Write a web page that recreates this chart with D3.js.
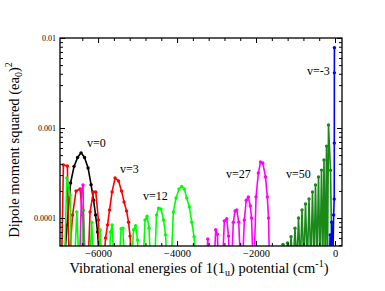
<!DOCTYPE html>
<html>
<head>
<meta charset="utf-8">
<script src="https://cdn.jsdelivr.net/npm/d3@7/dist/d3.min.js"></script>
<style>
  body { margin: 0; background: #fff; }
  text { font-family: "Liberation Serif", "Times New Roman", serif; fill: #000; }
</style>
</head>
<body>
<div id="chart"></div>
<script>
// values; 3e-5 means "below the axis" (clipped)
var v0Energy = [-6862, -6786, -6697, -6609, -6520, -6431, -6343, -6254, -6178, -6115, -6064, -6013, -5963];
var v0Dipole = [3e-5, 8.4e-5, 2.45e-4, 3.75e-4, 4.7e-4, 5.3e-4, 4.7e-4, 3.6e-4, 2.35e-4, 1.58e-4, 1.08e-4, 7.0e-5, 3e-5];

var v3Energy = [-6925, -6879, -6778, -6735, -6647, -6558, -6457, -6393, -6355, -6254, -6203, -6120, -6059, -5993, -5950,
  -5862, -5811, -5760, -5710, -5646, -5570, -5482, -5406, -5343, -5279, -5229, -5191, -5140];
var v3Dipole = [3e-5, 3.88e-4, 3.78e-4, 3e-5, 1.08e-4, 2.0e-4, 2.1e-4, 1.08e-4, 3e-5, 3e-5, 1.17e-4, 1.95e-4, 1.95e-4, 9.5e-5, 3e-5,
  3e-5, 6.0e-5, 8.4e-5, 1.23e-4, 1.95e-4, 2.78e-4, 2.58e-4, 2.0e-4, 1.51e-4, 1.2e-4, 9.0e-5, 6.3e-5, 3e-5];

var v12Energy = [-6849, -6793, -6710, -6672, -6596, -6540, -6482, -6419, -6373, -6317, -6216, -6160, -6115, -6001, -5950, -5900,
  -5722, -5684, -5646, -5596, -5469, -5418, -5373, -5330, -5153, -5102, -5051, -5001, -4975,
  -4861, -4811, -4760, -4710, -4672, -4570, -4520, -4469, -4406, -4342, -4292, -4254,
  -4152, -4094, -4026, -3950, -3882, -3816, -3755, -3689, -3628, -3570, -3519];
var v12Dipole = [3e-5, 2.78e-4, 1.8e-4, 3e-5, 3e-5, 1.17e-4, 3e-5, 3e-5, 1.23e-4, 3e-5, 3e-5, 9.0e-5, 3e-5, 3e-5, 7.4e-5, 3e-5,
  3e-5, 7.0e-5, 8.4e-5, 3e-5, 3e-5, 7.6e-5, 7.7e-5, 3e-5, 3e-5, 7.4e-5, 8.2e-5, 5.7e-5, 3e-5,
  3e-5, 9.5e-5, 1.05e-4, 7.7e-5, 3e-5, 3e-5, 1.08e-4, 1.29e-4, 1.26e-4, 9.5e-5, 6.5e-5, 3e-5,
  3e-5, 1.17e-4, 1.67e-4, 2.1e-4, 2.24e-4, 2.1e-4, 1.67e-4, 1.33e-4, 9.0e-5, 6.2e-5, 3e-5];

var v27Energy = [-6469, -6419, -6381, -6355,
  -3254, -3223, -3190, -3064, -3021, -2980, -2950, -2849, -2803, -2742, -2697, -2671,
  -2621, -2575, -2532, -2489, -2438, -2393, -2342, -2297, -2248, -2195, -2145, -2114, -2076,
  -2051, -2000, -1942, -1886, -1828, -1760, -1714, -1684, -1658];
var v27Dipole = [3e-5, 2.05e-4, 2.33e-4, 3e-5,
  3e-5, 5.85e-5, 3e-5, 3e-5, 7.4e-5, 6.6e-5, 3e-5, 3e-5, 9.3e-5, 9.8e-5, 6.3e-5, 3e-5,
  3e-5, 9.0e-5, 1.2e-4, 1.23e-4, 9.0e-5, 3e-5, 3e-5, 9.5e-5, 1.58e-4, 1.71e-4, 1.36e-4, 1.0e-4, 3e-5,
  3e-5, 1.71e-4, 3.16e-4, 4.19e-4, 4.08e-4, 2.86e-4, 1.71e-4, 1.0e-4, 3e-5];

var v50Energy = [-1367, -1317, -1253, -1203, -1157, -1114, -1063, -1013, -967, -924, -879, -836, -790, -747,
  -701, -658, -613, -570, -532, -494, -456, -418, -380, -342, -309, -279, -246, -215, -190, -165, -114, -76];
var v50Dipole = [3e-5, 5.1e-5, 3e-5, 5.3e-5, 3e-5, 6.2e-5, 3e-5, 7.7e-5, 3e-5, 1.0e-4, 3e-5, 1.23e-4, 3e-5, 1.43e-4,
  3e-5, 1.63e-4, 3e-5, 1.95e-4, 3e-5, 2.33e-4, 3e-5, 2.86e-4, 3e-5, 3.41e-4, 3e-5, 4.41e-4, 3e-5, 6.3e-4, 3e-5, 1.08e-3, 3.4e-4, 3e-5];

var vm3Energy = [-152, -122, -101, -84, -56, -35, -20, -18, -16.5, -15];
var vm3Dipole = [3e-5, 6.5e-5, 3e-5, 9.0e-5, 3e-5, 1.08e-4, 1.63e-4, 6.8e-4, 4.1e-3, 7.8e-3];

var xMajorTicks = [-6000, -4000, -2000, 0];
var xMinorTicks = [-6400, -5600, -5200, -4800, -4400, -3600, -3200, -2800, -2400, -1600, -1200, -800, -400];
var yMajorTicks = [1e-4, 1e-3, 1e-2];
var yTickLabels = ["0.0001", "0.001", "0.01"];
var yMinorTicks = [5e-5, 6e-5, 7e-5, 8e-5, 9e-5, 2e-4, 3e-4, 4e-4, 5e-4, 6e-4, 7e-4, 8e-4, 9e-4,
  2e-3, 3e-3, 4e-3, 5e-3, 6e-3, 7e-3, 8e-3, 9e-3];

var series = [
  {name: "v=0", energy: v0Energy, dipole: v0Dipole, color: "#000000", lx: 87, ly: 147},
  {name: "v=3", energy: v3Energy, dipole: v3Dipole, color: "#ff0000", lx: 120, ly: 173},
  {name: "v=12", energy: v12Energy, dipole: v12Dipole, color: "#00ff00", lx: 143, ly: 200},
  {name: "v=27", energy: v27Energy, dipole: v27Dipole, color: "#ff00ff", lx: 226, ly: 178},
  {name: "v=50", energy: v50Energy, dipole: v50Dipole, color: "#198a19", lx: 286, ly: 178},
  {name: "v=-3", energy: vm3Energy, dipole: vm3Dipole, color: "#0000ff", lx: 307, ly: 75}
];

var svgWidth = 385;
var svgHeight = 291;
var margin = {top: 38, right: 43, bottom: 45, left: 60};
var width = svgWidth - margin.left - margin.right;
var height = svgHeight - margin.top - margin.bottom;

var svg = d3.select("#chart")
  .append("svg")
  .attr("width", svgWidth)
  .attr("height", svgHeight);

var chartGroup = svg.append("g")
  .attr("transform", `translate(${margin.left}, ${margin.top})`);

var x = d3.scaleLinear()
  .domain([-6965, 177])
  .range([0, width]);

var y = d3.scaleLog()
  .domain([4.89e-5, 0.01])
  .range([height, 0]);

chartGroup.append("clipPath")
  .attr("id", "plotClip")
  .append("rect")
  .attr("width", width)
  .attr("height", height);

// curves
var line = d3.line()
  .x(d => x(d[0]))
  .y(d => y(d[1]));

var plot = chartGroup.append("g").attr("clip-path", "url(#plotClip)");

series.forEach(function(s) {
  var pts = s.energy.map((e, i) => [e, s.dipole[i]]);
  plot.append("path")
    .datum(pts)
    .attr("fill", "none")
    .attr("stroke", s.color)
    .attr("stroke-width", 1.6)
    .attr("stroke-linejoin", "round")
    .attr("d", line);
  plot.selectAll(null)
    .data(pts)
    .enter()
    .append("circle")
    .attr("cx", d => x(d[0]))
    .attr("cy", d => y(d[1]))
    .attr("r", 1.7)
    .attr("fill", s.color);
});

// axes, ticks pointing inwards on all four sides
function styleAxis(g) {
  g.select(".domain").remove();
  g.selectAll(".tick line").attr("stroke", "#000").attr("stroke-width", 1);
}

chartGroup.append("g")
  .attr("transform", `translate(0, ${height})`)
  .call(d3.axisBottom(x).tickValues(xMajorTicks).tickSize(-5).tickPadding(4).tickFormat(d3.format("d")))
  .call(styleAxis)
  .selectAll("text").attr("font-size", "10.5px");
chartGroup.append("g")
  .attr("transform", `translate(0, ${height})`)
  .call(d3.axisBottom(x).tickValues(xMinorTicks).tickSize(-3).tickFormat(""))
  .call(styleAxis);
chartGroup.append("g")
  .call(d3.axisTop(x).tickValues(xMajorTicks).tickSize(-5).tickFormat(""))
  .call(styleAxis);
chartGroup.append("g")
  .call(d3.axisTop(x).tickValues(xMinorTicks).tickSize(-3).tickFormat(""))
  .call(styleAxis);

chartGroup.append("g")
  .call(d3.axisLeft(y).tickValues(yMajorTicks).tickSize(-5).tickPadding(4)
    .tickFormat((d, i) => yTickLabels[i]))
  .call(styleAxis)
  .selectAll("text").attr("font-size", "8px");
chartGroup.append("g")
  .call(d3.axisLeft(y).tickValues(yMinorTicks).tickSize(-3).tickFormat(""))
  .call(styleAxis);
chartGroup.append("g")
  .attr("transform", `translate(${width}, 0)`)
  .call(d3.axisRight(y).tickValues(yMajorTicks).tickSize(-5).tickFormat(""))
  .call(styleAxis);
chartGroup.append("g")
  .attr("transform", `translate(${width}, 0)`)
  .call(d3.axisRight(y).tickValues(yMinorTicks).tickSize(-3).tickFormat(""))
  .call(styleAxis);

chartGroup.append("rect")
  .attr("width", width)
  .attr("height", height)
  .attr("fill", "none")
  .attr("stroke", "#000")
  .attr("stroke-width", 1.3);

// series labels
svg.selectAll(".vlabel")
  .data(series)
  .enter()
  .append("text")
  .attr("class", "vlabel")
  .attr("x", d => d.lx)
  .attr("y", d => d.ly)
  .attr("font-size", "12px")
  .text(d => d.name);

// axis titles
var xTitle = svg.append("text")
  .attr("x", 199)
  .attr("y", 273)
  .attr("text-anchor", "middle")
  .attr("font-size", "14.5px");
xTitle.append("tspan").text("Vibrational energies of 1(1");
xTitle.append("tspan").attr("font-size", "10px").attr("dy", 3).text("u");
xTitle.append("tspan").attr("dy", -3).text(") potential (cm");
xTitle.append("tspan").attr("font-size", "10px").attr("dy", -6).text("-1");
xTitle.append("tspan").attr("dy", 6).text(")");

var yTitle = svg.append("text")
  .attr("transform", "translate(19, 150) rotate(-90)")
  .attr("text-anchor", "middle")
  .attr("font-size", "14.5px");
yTitle.append("tspan").text("Dipole moment squared  (ea");
yTitle.append("tspan").attr("font-size", "10px").attr("dy", 3).text("0");
yTitle.append("tspan").attr("dy", -3).text(")");
yTitle.append("tspan").attr("font-size", "10px").attr("dy", -7).text("2");
</script>
</body>
</html>
